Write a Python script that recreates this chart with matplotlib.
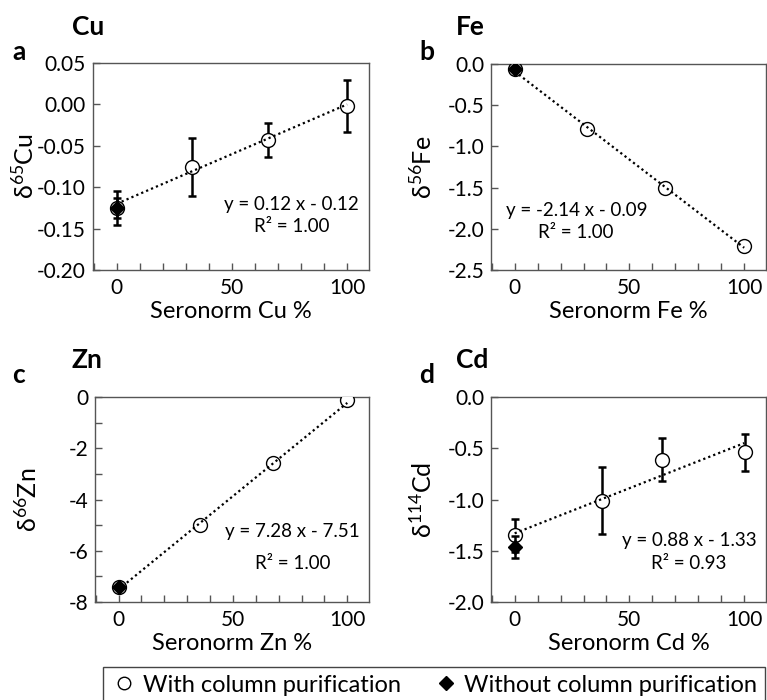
import numpy as np
import matplotlib
matplotlib.use("Agg")
import matplotlib.pyplot as plt
from matplotlib.lines import Line2D
from matplotlib.patches import Rectangle
from matplotlib.ticker import MultipleLocator, FormatStrFormatter

plt.rcParams['font.family'] = ['Lato', 'DejaVu Sans']
plt.rcParams['mathtext.default'] = 'regular'
plt.rcParams['axes.unicode_minus'] = False

# ---- data (x = Seronorm %, y = delta value) ----
cu_x = [0, 32.5, 65.8, 100]
cu_y = [-0.125, -0.076, -0.043, -0.002]
cu_err = [0.021, 0.035, 0.020, 0.031]
cu_raw_y = -0.125
cu_raw_err = 0.012

fe_x = [0, 31.4, 65.4, 100]
fe_y = [-0.065, -0.79, -1.51, -2.205]
fe_err = [0.02, 0.02, 0.02, 0.02]
fe_raw_y = -0.065
fe_raw_err = 0.0

zn_x = [0, 35.4, 67.6, 100]
zn_y = [-7.42, -4.98, -2.58, -0.13]
zn_err = [0.05, 0.05, 0.05, 0.05]
zn_raw_y = -7.42
zn_raw_err = 0.0

cd_x = [0, 37.9, 64.2, 100.3]
cd_y = [-1.35, -1.01, -0.61, -0.54]
cd_err = [0.16, 0.325, 0.21, 0.18]
cd_raw_y = -1.463
cd_raw_err = 0.11

# linear fits as printed in the panels (x as fraction)
fit_slope = [0.12, -2.14, 7.28, 0.88]
fit_icpt = [-0.12, -0.09, -7.51, -1.33]
fit_r2 = [1.00, 1.00, 1.00, 0.93]

elements = ['Cu', 'Fe', 'Zn', 'Cd']
isotopes = ['65', '56', '66', '114']
letters = ['a', 'b', 'c', 'd']

fig = plt.figure(figsize=(7.67, 7.0), dpi=100)
W, H = 767.0, 700.0

def px_axes(l, t, r, b):
    return fig.add_axes([l / W, 1 - b / H, (r - l) / W, (b - t) / H])

axes = [px_axes(93, 63, 369, 270),
        px_axes(491, 64, 766, 270),
        px_axes(95, 397, 369, 602),
        px_axes(491, 397, 766, 602)]

panels = [(cu_x, cu_y, cu_err, cu_raw_y, cu_raw_err),
          (fe_x, fe_y, fe_err, fe_raw_y, fe_raw_err),
          (zn_x, zn_y, zn_err, zn_raw_y, zn_raw_err),
          (cd_x, cd_y, cd_err, cd_raw_y, cd_raw_err)]

ylims = [(-0.20, 0.05), (-2.5, 0.0), (-8, 0), (-2.0, 0.0)]
ysteps = [0.05, 0.5, 2, 0.5]
yfmts = ['%.2f', '%.1f', '%d', '%.1f']
eq_pos = [(0.72, 0.315, 0.208), (0.31, 0.29, 0.18), (0.72, 0.343, 0.189), (0.72, 0.302, 0.189)]

spine_col = '#555555'

for i, ax in enumerate(axes):
    x, y, err, raw_y, raw_err = panels[i]
    ax.errorbar(x, y, yerr=err, fmt='none', ecolor='black', elinewidth=1.8,
                capsize=3, capthick=1.8, zorder=2)
    ax.plot(x, y, 'o', ms=10, mfc='white', mec='black', mew=1.0, zorder=3)
    xx = np.array([0, 100])
    ax.plot(xx, fit_slope[i] * xx / 100 + fit_icpt[i], color='black',
            ls=(0, (1, 1.4)), lw=1.6, zorder=4)
    if raw_err > 0:
        ax.errorbar([0], [raw_y], yerr=[raw_err], fmt='none', ecolor='black',
                    elinewidth=1.8, capsize=3, capthick=1.8, zorder=4)
    ax.plot([0], [raw_y], 'D', ms=7, color='black', zorder=5)

    ax.set_xlim(-10.3, 109.5)
    ax.set_ylim(*ylims[i])
    ax.xaxis.set_major_locator(MultipleLocator(50))
    ax.xaxis.set_minor_locator(MultipleLocator(10))
    ax.yaxis.set_major_locator(MultipleLocator(ysteps[i]))
    ax.yaxis.set_major_formatter(FormatStrFormatter(yfmts[i]))
    if elements[i] == 'Zn':
        ax.yaxis.set_minor_locator(MultipleLocator(1))
    else:
        ax.yaxis.set_minor_locator(MultipleLocator(ysteps[i]))
    ax.tick_params(which='both', direction='in', length=5, width=1,
                   color=spine_col, top=False, right=False, labelsize=15)
    ax.tick_params(axis='x', pad=6)
    ax.tick_params(axis='y', pad=5)
    for s in ax.spines.values():
        s.set_color(spine_col)
        s.set_linewidth(1)

    ax.set_xlabel('Seronorm %s %%' % elements[i], fontsize=17, labelpad=2)
    ax.set_ylabel('δ$^{%s}$%s' % (isotopes[i], elements[i]), fontsize=18)
    ax.yaxis.set_label_coords(-0.20, 0.5)

    ex, ey1, ey2 = eq_pos[i]
    sign = '-' if fit_icpt[i] < 0 else '+'
    ax.text(ex, ey1, 'y = %.2f x %s %.2f' % (fit_slope[i], sign, abs(fit_icpt[i])),
            transform=ax.transAxes, ha='center', va='center', fontsize=13.5)
    ax.text(ex, ey2, 'R² = %.2f' % fit_r2[i], transform=ax.transAxes,
            ha='center', va='center', fontsize=13.5)

# panel titles and letters
title_xy = [(72, 35), (456, 35), (72, 368), (456, 368)]
letter_xy = [(12, 60), (419, 60), (12, 383), (419, 383)]
for i in range(4):
    fig.text(title_xy[i][0] / W, 1 - title_xy[i][1] / H, elements[i],
             fontsize=19, fontweight='bold', va='baseline')
    fig.text(letter_xy[i][0] / W, 1 - letter_xy[i][1] / H, letters[i],
             fontsize=19, fontweight='bold', va='baseline')

# legend box (runs off the bottom edge like the original)
fig.patches.append(Rectangle((103 / W, -0.01), 662 / W, (700 - 667) / H + 0.01,
                             transform=fig.transFigure, fill=False,
                             ec='#444444', lw=1))
handles = [Line2D([], [], ls='none', marker='o', ms=9, mfc='white', mec='black', mew=1),
           Line2D([], [], ls='none', marker='D', ms=7, color='black')]
fig.legend(handles, ['With column purification', 'Without column purification'],
           loc='center left', bbox_to_anchor=(112 / W, 1 - 685 / H),
           ncol=2, fontsize=17, frameon=False, handletextpad=0.3,
           handlelength=1.0, borderaxespad=0, borderpad=0, columnspacing=1.4)

fig.savefig('out.png', dpi=100)
